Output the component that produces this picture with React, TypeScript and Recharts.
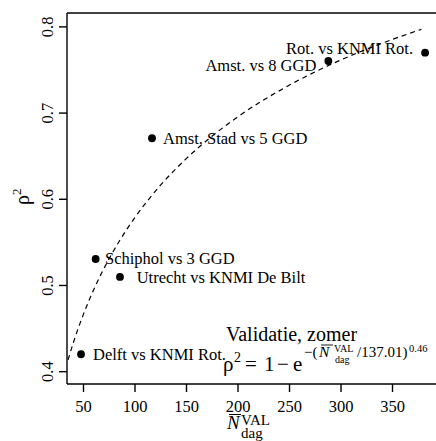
import React from 'react';
import { ComposedChart, Line, Scatter, XAxis, YAxis, ReferenceLine } from 'recharts';

const stationNames = [
  'Delft vs KNMI Rot.',
  'Utrecht vs KNMI De Bilt',
  'Schiphol vs 3 GGD',
  'Amst. Stad vs 5 GGD',
  'Amst. vs 8 GGD',
  'Rot. vs KNMI Rot.',
];
const nValues = [47.6, 85.4, 61.8, 116.5, 287.7, 381.6];
const rho2Values = [0.4202, 0.5099, 0.5307, 0.6708, 0.7604, 0.7701];

// fitted curve rho^2 = 1 - exp(-(N/137.01)^0.46), values as drawn
const curveN = [35, 40, 45, 50, 60, 75, 85, 100, 125, 150, 175, 200, 250, 300, 350, 378];
const curveRho2 = [0.4136, 0.4331, 0.4507, 0.4668, 0.4954, 0.5313, 0.5519, 0.579, 0.6166, 0.6474, 0.6734, 0.6958, 0.7325, 0.7617, 0.7855, 0.7971];

const xTicks = [50, 100, 150, 200, 250, 300, 350];
const yTicks = [0.4, 0.5, 0.6, 0.7, 0.8];

const X_DOMAIN: [number, number] = [33.98, 405.8];
const Y_DOMAIN: [number, number] = [0.3857, 0.8161];

// label placement (side, horizontal gap, baseline shift)
const LABEL_LAYOUT = [
  { side: 'right', dx: 12, dy: 5.7 },
  { side: 'right', dx: 16.7, dy: 5.7 },
  { side: 'right', dx: 9.3, dy: 5.3 },
  { side: 'right', dx: 11, dy: 5.7 },
  { side: 'left', dx: 12, dy: 10 },
  { side: 'left', dx: 12, dy: 1.6 },
];

const FONT = '"Liberation Serif", "Times New Roman", serif';

const points = stationNames.map((name, i) => ({ x: nValues[i], y: rho2Values[i], name, idx: i }));
const curve = curveN.map((n, i) => ({ x: n, y: curveRho2[i] }));

const PointWithLabel = (props: any) => {
  const { cx, cy, payload } = props;
  if (cx == null || cy == null) return null;
  const lay = LABEL_LAYOUT[payload.idx];
  const right = lay.side === 'right';
  return (
    <g>
      <circle cx={cx} cy={cy} r={3.9} fill="#000" />
      <text
        x={right ? cx + lay.dx : cx - lay.dx}
        y={cy + lay.dy}
        textAnchor={right ? 'start' : 'end'}
        fontSize={16.5}
        fontFamily={FONT}
        fill="#000"
      >
        {payload.name}
      </text>
    </g>
  );
};

const XTick = (props: any) => {
  const { x, y, payload } = props;
  return (
    <text x={x} y={y + 18} textAnchor="middle" fontSize={16.5} fontFamily={FONT} fill="#000">
      {payload.value}
    </text>
  );
};

const YTick = (props: any) => {
  const { x, y, payload } = props;
  const bx = x - 3.5;
  return (
    <text
      x={bx}
      y={y}
      textAnchor="middle"
      fontSize={16.5}
      fontFamily={FONT}
      fill="#000"
      transform={`rotate(-90 ${bx} ${y})`}
    >
      {payload.value.toFixed(1)}
    </text>
  );
};

export default function App() {
  return (
    <div
      style={{
        position: 'fixed',
        left: 0,
        top: 0,
        width: 436,
        height: 441,
        overflow: 'hidden',
        background: '#fff',
      }}
    >
      <ComposedChart
        width={460}
        height={441}
        margin={{ top: 13, right: 10, bottom: 0, left: 0 }}
        style={{ fontFamily: FONT }}
      >
        <XAxis
          type="number"
          dataKey="x"
          domain={X_DOMAIN}
          allowDataOverflow
          ticks={xTicks}
          interval={0}
          height={57}
          tickSize={8}
          tickMargin={2}
          stroke="#000"
          axisLine={{ stroke: '#000', strokeWidth: 1.4 }}
          tickLine={{ stroke: '#000', strokeWidth: 1.4 }}
          tick={<XTick />}
        />
        <YAxis
          type="number"
          dataKey="y"
          domain={Y_DOMAIN}
          allowDataOverflow
          ticks={yTicks}
          interval={0}
          width={67}
          tickSize={8}
          tickMargin={2}
          stroke="#000"
          axisLine={{ stroke: '#000', strokeWidth: 1.4 }}
          tickLine={{ stroke: '#000', strokeWidth: 1.4 }}
          tick={<YTick />}
        />
        <ReferenceLine y={Y_DOMAIN[1]} stroke="#000" strokeWidth={1.4} ifOverflow="visible" />
        <Line
          data={curve}
          dataKey="y"
          type="monotone"
          stroke="#000"
          strokeWidth={1.2}
          strokeDasharray="5 4"
          dot={false}
          activeDot={false}
          isAnimationActive={false}
        />
        <Scatter data={points} dataKey="y" shape={<PointWithLabel />} isAnimationActive={false} />
      </ComposedChart>
      <svg
        width={436}
        height={441}
        style={{ position: 'absolute', left: 0, top: 0, pointerEvents: 'none' }}
        fontFamily={FONT}
        fill="#000"
      >
        {/* y-axis title */}
        <text x={29} y={205} fontSize={20} transform="rotate(-90 29 205)">
          ρ<tspan dy={-8} fontSize={13}>2</tspan>
        </text>
        {/* x-axis title */}
        <text fontSize={19}>
          <tspan x={227} y={429} fontStyle="italic">N</tspan>
          <tspan x={241} y={425} fontSize={15}>VAL</tspan>
          <tspan x={241} y={438} fontSize={15}>dag</tspan>
        </text>
        <line x1={229} x2={241} y1={414.5} y2={414.5} stroke="#000" strokeWidth={1} />
        {/* annotation */}
        <text x={226} y={341} fontSize={20}>Validatie, zomer</text>
        <text fontSize={21}>
          <tspan x={223} y={371}>ρ</tspan>
          <tspan x={234} y={362} fontSize={14}>2</tspan>
          <tspan x={245} y={371}>=</tspan>
          <tspan x={264} y={371}>1</tspan>
          <tspan x={277} y={371}>−</tspan>
          <tspan x={293} y={371}>e</tspan>
          <tspan x={304} y={357} fontSize={15}>−(</tspan>
          <tspan x={319} y={357} fontSize={15.5} fontStyle="italic">N</tspan>
          <tspan x={334} y={352} fontSize={10}>VAL</tspan>
          <tspan x={335} y={363} fontSize={10}>dag</tspan>
          <tspan x={357} y={357} fontSize={15}>/137.01)</tspan>
          <tspan x={409} y={352} fontSize={10.5}>0.46</tspan>
        </text>
        <line x1={321} x2={333} y1={345} y2={345} stroke="#000" strokeWidth={0.9} />
      </svg>
    </div>
  );
}
